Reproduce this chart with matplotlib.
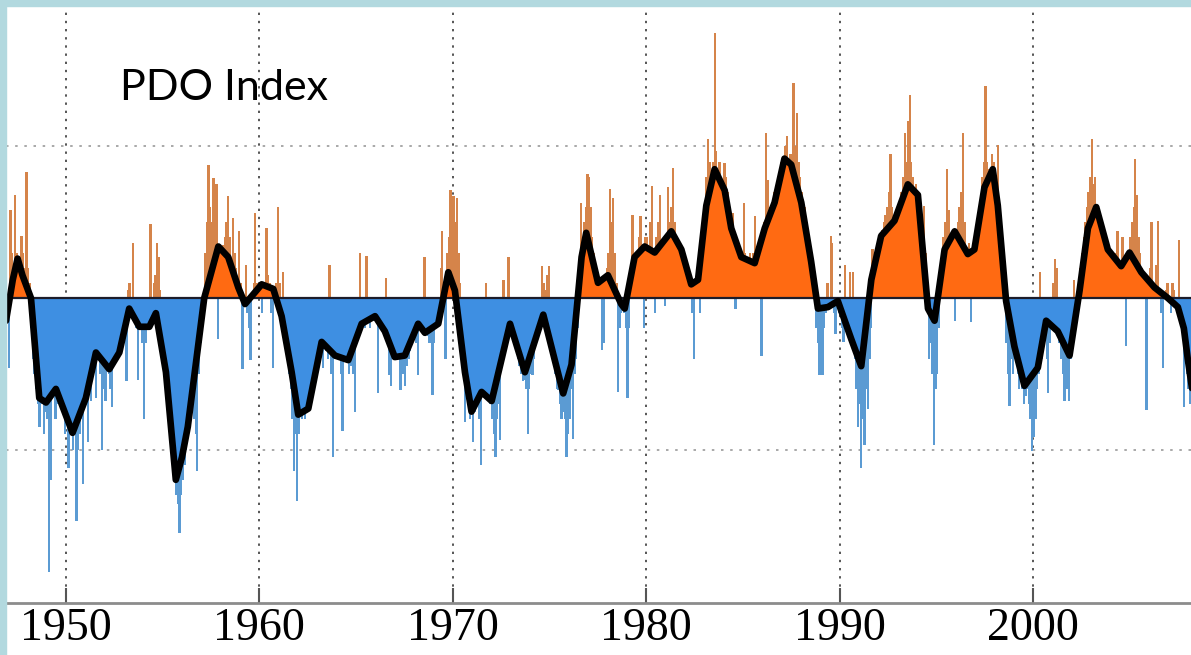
import numpy as np
import matplotlib
matplotlib.use("Agg")
import matplotlib.pyplot as plt
from matplotlib.patches import Rectangle

# ---------------- data ----------------
start_year = 1947
pdo_1940s = [  # 1947-1949 monthly
    -0.46, 0.58, 0.30, 0.20, 0.68, 0.30, 0.20, 0.25, 0.41, 0.30, 0.20, 0.83,
    0.20, 0.10, -0.20, -0.40, -0.50, -0.60, -0.70, -0.85, -0.60, -0.70, -0.90, -0.75,
    -0.80, -1.81, -1.20, -0.60, -0.30, -0.80, -0.70, -0.50, -0.41, -0.60, -0.70, -0.90,
]
pdo_1950s = [
    -0.80, -1.12, -0.90, -0.80, -1.00, -0.90, -1.47, -1.00, -0.90, -0.80, -1.23, -0.70,
    -0.70, -0.95, -0.60, -0.68, -0.50, -0.40, -0.66, -0.30, -0.40, -0.50, -1.00, -0.60,
    -0.68, -0.40, -0.50, -0.60, -0.72, -0.40, -0.30, -0.35, -0.40, -0.30, -0.20, -0.15,
    -0.10, -0.55, 0.05, 0.10, 0.00, 0.36, -0.10, -0.20, -0.54, -0.20, -0.10, -0.30,
    -0.80, -0.30, -0.20, -0.10, 0.49, -0.05, 0.10, 0.15, 0.36, 0.27, 0.05, -0.20,
    -0.30, -0.40, -0.50, -0.60, -0.80, -1.00, -1.10, -1.20, -1.30, -1.36, -1.55, -1.30,
    -1.20, -1.10, -1.00, -0.90, -0.85, -0.80, -0.70, -0.80, -0.90, -1.14, -0.50, -0.30,
    -0.20, 0.00, 0.30, 0.50, 0.88, 0.60, 0.50, 0.79, 0.40, 0.75, -0.27, 0.30,
    0.30, 0.35, 0.40, 0.50, 0.67, 0.40, 0.20, 0.53, 0.30, 0.20, 0.10, 0.44,
    0.10, -0.47, 0.00, 0.22, -0.10, -0.20, -0.41, 0.00, 0.10, 0.56, 0.10, 0.00,
]
pdo_1960s = [
    0.05, -0.10, 0.10, 0.00, 0.46, 0.15, 0.10, -0.10, -0.46, 0.00, 0.10, 0.60,
    0.10, 0.00, 0.17, -0.10, -0.20, -0.30, -0.50, -0.60, -0.80, -1.14, -0.90, -1.34,
    -0.90, -0.70, -0.80, -0.60, -0.80, -0.70, -0.50, -0.45, -0.40, -0.35, -0.40, -0.30,
    -0.30, -0.20, -0.30, -0.46, -0.30, -0.35, -0.40, 0.22, -0.50, -1.05, -0.40, -0.30,
    -0.30, -0.40, -0.50, -0.88, -0.40, -0.35, -0.40, -0.50, -0.45, -0.40, -0.50, -0.75,
    -0.20, -0.10, 0.30, 0.00, -0.10, -0.20, 0.28, -0.10, -0.20, -0.10, -0.15, -0.10,
    -0.10, -0.63, -0.20, -0.10, -0.15, 0.00, 0.13, -0.30, -0.51, -0.58, -0.30, -0.35,
    -0.40, -0.35, -0.40, -0.61, -0.40, -0.50, -0.58, -0.45, -0.40, -0.35, -0.30, -0.25,
    -0.20, -0.30, -0.51, -0.20, -0.10, -0.15, 0.27, -0.20, -0.25, -0.30, -0.30, -0.64,
    -0.30, -0.20, -0.10, 0.00, 0.20, 0.44, 0.10, -0.40, 0.30, 0.40, 0.71, 0.50,
]
pdo_1970s = [
    0.67, 0.50, 0.66, 0.30, 0.10, -0.20, -0.50, -0.82, -0.60, -0.70, -0.80, -0.75,
    -0.95, -0.75, -0.70, -0.60, -0.80, -1.10, -0.60, -0.50, 0.10, -0.60, -0.65, -0.70,
    -0.80, -0.90, -1.05, -0.80, -0.70, -0.94, -0.40, 0.12, -0.20, -0.10, 0.27, -0.10,
    -0.10, -0.20, -0.30, -0.35, -0.40, -0.45, -0.50, -0.55, -0.54, -0.60, -0.90, -0.60,
    -0.50, -0.51, -0.40, -0.30, -0.20, -0.10, 0.00, 0.21, 0.10, 0.05, 0.15, 0.21,
    -0.20, -0.30, -0.40, -0.50, -0.60, -0.61, -0.70, -0.80, -0.75, -0.80, -1.05, -0.90,
    -0.80, -0.60, -0.93, -0.50, -0.40, -0.20, 0.10, 0.63, 0.40, 0.50, 0.60, 0.82,
    0.80, 0.60, 0.40, 0.30, 0.20, 0.10, 0.05, 0.00, -0.34, -0.30, 0.10, 0.20,
    0.30, 0.72, 0.50, 0.66, 0.30, 0.10, -0.62, -0.20, -0.10, 0.00, -0.10, -0.20,
    -0.66, -0.20, 0.10, 0.55, 0.30, 0.20, 0.30, 0.40, 0.54, 0.30, -0.20, 0.40,
]
pdo_1980s = [
    0.40, 0.30, 0.50, 0.74, 0.30, -0.10, 0.40, 0.50, 0.68, 0.30, 0.20, -0.05,
    0.40, 0.73, 0.50, 0.60, 0.86, 0.50, 0.40, 0.35, 0.30, 0.35, 0.30, 0.20,
    0.15, 0.10, 0.05, 0.00, -0.10, -0.40, 0.05, 0.10, 0.00, -0.10, 0.30, 0.50,
    0.60, 0.80, 1.05, 0.90, 0.80, 0.90, 1.75, 0.97, 0.80, 0.90, 0.80, 0.70,
    0.89, 0.80, 0.70, 0.60, 0.50, 0.56, 0.30, -0.07, 0.30, 0.20, 0.25, 0.30,
    0.63, 0.30, 0.20, 0.25, 0.30, 0.20, 0.30, 0.54, 0.20, 0.25, 0.30, -0.38,
    0.40, 0.50, 1.09, 0.78, 0.60, 0.50, 0.60, 0.70, 0.65, 0.70, 0.80, 0.90,
    0.80, 0.90, 1.00, 1.07, 0.90, 0.95, 0.80, 1.42, 1.00, 1.22, 0.90, 0.80,
    0.70, 0.65, 0.60, 0.50, 0.40, 0.30, 0.20, 0.10, 0.00, -0.20, -0.30, -0.51,
    -0.30, -0.51, -0.20, -0.10, 0.10, 0.00, 0.41, 0.36, -0.10, -0.24, 0.00, -0.10,
]
pdo_1990s = [
    -0.10, -0.20, -0.29, 0.22, 0.00, -0.10, 0.17, -0.20, 0.17, -0.40, -0.60, -0.85,
    -0.70, -1.12, -0.80, -0.97, -0.60, -0.73, -0.40, -0.20, 0.32, 0.10, 0.20, 0.30,
    0.41, 0.30, 0.45, 0.50, 0.55, 0.60, 0.70, 0.95, 0.60, 0.50, 0.45, 0.50,
    0.50, 0.60, 0.70, 0.80, 1.09, 0.90, 1.17, 1.34, 0.90, 0.80, 0.70, 0.75,
    0.70, 0.60, 0.50, 0.55, 0.61, 0.30, 0.10, -0.40, -0.30, -0.50, -0.97, -0.60,
    -0.50, -0.20, 0.10, 0.30, 0.40, 0.50, 0.85, 0.58, 0.40, 0.30, 0.40, -0.15,
    0.40, 0.50, 0.60, 0.70, 1.09, 0.50, 0.30, 0.20, 0.36, -0.16, 0.10, 0.20,
    0.20, 0.30, 0.40, 0.60, 0.80, 0.90, 1.40, 0.90, 0.85, 0.80, 0.95, 0.90,
    0.85, 0.80, 1.01, 0.60, 0.40, 0.20, 0.00, -0.30, -0.50, -0.71, -0.40, -0.50,
    -0.30, -0.40, -0.50, -0.60, -0.55, -0.60, -0.70, -0.65, -0.60, -0.70, -0.80, -1.01,
]
pdo_2000s = [  # 2000 - Mar 2008
    -0.92, -0.80, -0.60, -0.50, 0.17, -0.40, -0.30, -0.20, -0.40, -0.63, -0.30, -0.20,
    0.10, 0.26, 0.20, -0.20, -0.30, -0.40, -0.50, -0.68, -0.50, -0.60, -0.68, -0.40,
    -0.30, 0.12, -0.10, 0.00, 0.10, 0.20, 0.30, 0.40, 0.50, 0.60, 0.70, 0.80,
    1.05, 0.75, 0.80, 0.61, 0.55, 0.50, 0.45, 0.40, 0.35, 0.30, 0.35, 0.30,
    0.30, 0.25, 0.20, 0.30, 0.44, 0.20, 0.10, 0.40, 0.20, -0.32, 0.20, 0.30,
    0.40, 0.50, 0.60, 0.92, 0.68, 0.40, 0.30, 0.20, 0.10, 0.00, -0.74, 0.10,
    0.20, 0.50, 0.10, 0.00, 0.22, 0.51, 0.00, -0.10, -0.46, 0.00, 0.05, 0.10,
    0.00, -0.10, 0.10, 0.05, 0.00, -0.10, 0.38, 0.00, -0.20, -0.72, -0.40, -0.50,
    -0.60, -0.70, -0.65,
]

# smoothed curve (black line), read at knots
smooth_years = [
    1946.90, 1947.25, 1947.50, 1947.75, 1948.19, 1948.62, 1948.97, 1949.48, 1950.34,
    1951.03, 1951.55, 1952.24, 1952.76, 1953.27, 1953.79, 1954.31, 1954.65, 1955.17,
    1955.68, 1956.00, 1956.30, 1956.60, 1956.90, 1957.15, 1957.88, 1958.39, 1958.91,
    1959.26, 1960.12, 1960.72, 1961.15, 1961.67, 1962.01, 1962.53, 1963.22, 1963.91,
    1964.60, 1965.29, 1965.98, 1966.49, 1967.00, 1967.52, 1968.21, 1968.56, 1969.25,
    1969.77, 1970.11, 1970.63, 1970.97, 1971.49, 1972.01, 1972.96, 1973.73, 1974.68,
    1975.71, 1976.14, 1976.66, 1976.90, 1977.51, 1978.02, 1978.71, 1978.89, 1979.40,
    1979.92, 1980.44, 1981.30, 1981.82, 1982.33, 1982.68, 1983.11, 1983.54, 1984.06,
    1984.40, 1984.92, 1985.61, 1986.13, 1986.64, 1987.15, 1987.50, 1988.02, 1988.53,
    1988.88, 1989.40, 1989.91, 1990.60, 1991.12, 1991.64, 1992.15, 1992.84, 1993.53,
    1994.05, 1994.57, 1994.91, 1995.43, 1995.95, 1996.63, 1996.97, 1997.49, 1997.92,
    1998.18, 1998.61, 1999.04, 1999.56, 2000.25, 2000.68, 2001.28, 2001.89, 2002.41,
    2002.84, 2003.27, 2003.87, 2004.56, 2004.99, 2005.60, 2006.28, 2006.97, 2007.49,
    2007.80, 2008.00, 2008.25,
]
smooth_vals = [
    -0.15, 0.12, 0.26, 0.15, 0.00, -0.66, -0.69, -0.60, -0.89,
    -0.66, -0.36, -0.47, -0.36, -0.07, -0.19, -0.19, -0.10, -0.49,
    -1.20, -1.05, -0.85, -0.55, -0.25, 0.00, 0.34, 0.27, 0.07,
    -0.04, 0.09, 0.06, -0.12, -0.49, -0.77, -0.73, -0.29, -0.38,
    -0.41, -0.17, -0.12, -0.22, -0.39, -0.38, -0.17, -0.23, -0.17,
    0.17, 0.05, -0.49, -0.75, -0.62, -0.68, -0.17, -0.49, -0.11,
    -0.63, -0.44, 0.27, 0.43, 0.10, 0.15, -0.04, -0.07, 0.27,
    0.34, 0.30, 0.44, 0.32, 0.09, 0.12, 0.61, 0.85, 0.71,
    0.46, 0.27, 0.23, 0.46, 0.63, 0.92, 0.88, 0.63, 0.24,
    -0.07, -0.06, -0.02, -0.27, -0.45, 0.12, 0.41, 0.51, 0.75,
    0.68, -0.07, -0.15, 0.32, 0.44, 0.29, 0.32, 0.73, 0.85,
    0.61, -0.02, -0.32, -0.58, -0.46, -0.15, -0.22, -0.38, 0.05,
    0.46, 0.60, 0.32, 0.21, 0.30, 0.17, 0.07, 0.00, -0.06,
    -0.20, -0.40, -0.62,
]

tick_years = [1950, 1960, 1970, 1980, 1990, 2000]
title_text = "PDO Index"

# ---------------- figure ----------------
W, H = 1191, 655
fig = plt.figure(figsize=(W / 100, H / 100), dpi=100)
fig.patch.set_facecolor("white")
ax = fig.add_axes([6 / W, 52 / H, (W - 6) / W, 597 / H])

monthly = np.array(pdo_1940s + pdo_1950s + pdo_1960s + pdo_1970s +
                   pdo_1980s + pdo_1990s + pdo_2000s)
t = start_year + (np.arange(len(monthly)) + 0.5) / 12.0
pos = monthly >= 0

ax.bar(t[pos], monthly[pos], width=0.12, color="#d5844a", linewidth=0, zorder=2)
ax.bar(t[~pos], monthly[~pos], width=0.12, color="#5b9bd3", linewidth=0, zorder=2)

sy = np.array(smooth_years)
sv = np.array(smooth_vals)
ax.fill_between(sy, sv, 0, where=sv >= 0, interpolate=True,
                color="#ff6a12", linewidth=0, zorder=3)
ax.fill_between(sy, sv, 0, where=sv <= 0, interpolate=True,
                color="#3e8fe2", linewidth=0, zorder=3)
ax.axhline(0, color="#1c1c2a", lw=1.6, zorder=4)
ax.plot(sy, sv, color="black", lw=4.8, solid_joinstyle="round",
        solid_capstyle="round", zorder=5)

# grid
for yv in (-1, 1):
    ax.axhline(yv, color="#9a9a9a", lw=1.2, ls=(0, (1.5, 4)), zorder=1)
for xv in tick_years:
    ax.axvline(xv, color="#555555", lw=1.4, ls=(0, (1.2, 3)), zorder=1)

ax.set_xlim(1946.90, 2008.17)
ax.set_ylim(-2.013, 1.927)
ax.set_yticks([])
ax.set_xticks(tick_years)
ax.set_xticklabels([str(v) for v in tick_years], family="Liberation Serif",
                   fontsize=33, color="black")
ax.tick_params(axis="x", direction="in", length=11, width=1.5,
               color="#555555", pad=3)
for s in ("top", "left", "right"):
    ax.spines[s].set_visible(False)
ax.spines["bottom"].set_color("#8c8c8c")
ax.spines["bottom"].set_linewidth(2)
ax.set_facecolor("white")

fig.text(120 / W, 1 - 100 / H, title_text, family="Lato", fontsize=31,
         color="black", va="baseline", ha="left")

# light blue frame (top and left)
border = "#b2d9df"
fig.patches.append(Rectangle((0, 0), 6 / W, 1, transform=fig.transFigure,
                             color=border, zorder=10))
fig.patches.append(Rectangle((0, 1 - 6 / H), 1, 6 / H, transform=fig.transFigure,
                             color=border, zorder=10))

fig.savefig("out.png", dpi=100, facecolor="white")
